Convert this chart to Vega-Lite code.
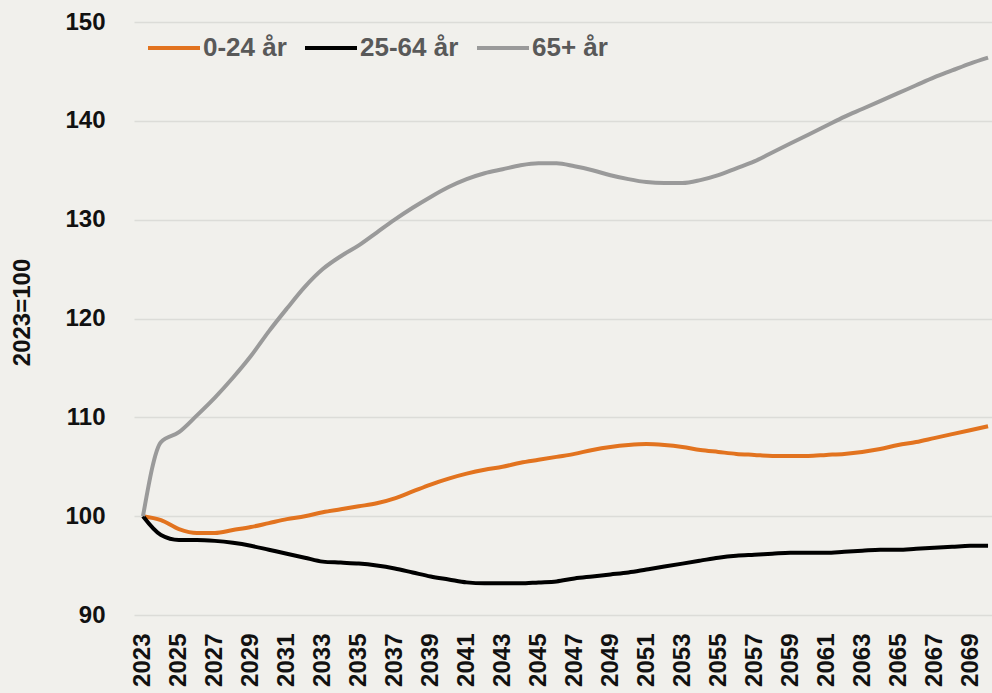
{
  "$schema": "https://vega.github.io/schema/vega-lite/v6.json",
  "autosize": {"type": "none"},
  "padding": {"left": 134, "top": 22, "right": 0, "bottom": 78},
  "width": 858,
  "height": 593,
  "background": "#f1f0ec",
  "config": {"view": {"stroke": null}, "font": "Liberation Sans"},
  "datasets": {
    "d": [
      {"year":2023,"g":"0-24 år","v":100},{"year":2024,"g":"0-24 år","v":99.6},{"year":2025,"g":"0-24 år","v":98.7},{"year":2026,"g":"0-24 år","v":98.3},{"year":2027,"g":"0-24 år","v":98.3},{"year":2028,"g":"0-24 år","v":98.6},{"year":2029,"g":"0-24 år","v":98.9},{"year":2030,"g":"0-24 år","v":99.3},{"year":2031,"g":"0-24 år","v":99.7},{"year":2032,"g":"0-24 år","v":100.0},{"year":2033,"g":"0-24 år","v":100.4},{"year":2034,"g":"0-24 år","v":100.7},{"year":2035,"g":"0-24 år","v":101.0},{"year":2036,"g":"0-24 år","v":101.3},{"year":2037,"g":"0-24 år","v":101.8},{"year":2038,"g":"0-24 år","v":102.5},{"year":2039,"g":"0-24 år","v":103.2},{"year":2040,"g":"0-24 år","v":103.8},{"year":2041,"g":"0-24 år","v":104.3},{"year":2042,"g":"0-24 år","v":104.7},{"year":2043,"g":"0-24 år","v":105.0},{"year":2044,"g":"0-24 år","v":105.4},{"year":2045,"g":"0-24 år","v":105.7},{"year":2046,"g":"0-24 år","v":106.0},{"year":2047,"g":"0-24 år","v":106.3},{"year":2048,"g":"0-24 år","v":106.7},{"year":2049,"g":"0-24 år","v":107.0},{"year":2050,"g":"0-24 år","v":107.2},{"year":2051,"g":"0-24 år","v":107.3},{"year":2052,"g":"0-24 år","v":107.2},{"year":2053,"g":"0-24 år","v":107.0},{"year":2054,"g":"0-24 år","v":106.7},{"year":2055,"g":"0-24 år","v":106.5},{"year":2056,"g":"0-24 år","v":106.3},{"year":2057,"g":"0-24 år","v":106.2},{"year":2058,"g":"0-24 år","v":106.1},{"year":2059,"g":"0-24 år","v":106.1},{"year":2060,"g":"0-24 år","v":106.1},{"year":2061,"g":"0-24 år","v":106.2},{"year":2062,"g":"0-24 år","v":106.3},{"year":2063,"g":"0-24 år","v":106.5},{"year":2064,"g":"0-24 år","v":106.8},{"year":2065,"g":"0-24 år","v":107.2},{"year":2066,"g":"0-24 år","v":107.5},{"year":2067,"g":"0-24 år","v":107.9},{"year":2068,"g":"0-24 år","v":108.3},{"year":2069,"g":"0-24 år","v":108.7},{"year":2070,"g":"0-24 år","v":109.1},
      {"year":2023,"g":"25-64 år","v":100},{"year":2024,"g":"25-64 år","v":98.1},{"year":2025,"g":"25-64 år","v":97.6},{"year":2026,"g":"25-64 år","v":97.6},{"year":2027,"g":"25-64 år","v":97.5},{"year":2028,"g":"25-64 år","v":97.3},{"year":2029,"g":"25-64 år","v":97.0},{"year":2030,"g":"25-64 år","v":96.6},{"year":2031,"g":"25-64 år","v":96.2},{"year":2032,"g":"25-64 år","v":95.8},{"year":2033,"g":"25-64 år","v":95.4},{"year":2034,"g":"25-64 år","v":95.3},{"year":2035,"g":"25-64 år","v":95.2},{"year":2036,"g":"25-64 år","v":95.0},{"year":2037,"g":"25-64 år","v":94.7},{"year":2038,"g":"25-64 år","v":94.3},{"year":2039,"g":"25-64 år","v":93.9},{"year":2040,"g":"25-64 år","v":93.6},{"year":2041,"g":"25-64 år","v":93.3},{"year":2042,"g":"25-64 år","v":93.2},{"year":2043,"g":"25-64 år","v":93.2},{"year":2044,"g":"25-64 år","v":93.2},{"year":2045,"g":"25-64 år","v":93.3},{"year":2046,"g":"25-64 år","v":93.4},{"year":2047,"g":"25-64 år","v":93.7},{"year":2048,"g":"25-64 år","v":93.9},{"year":2049,"g":"25-64 år","v":94.1},{"year":2050,"g":"25-64 år","v":94.3},{"year":2051,"g":"25-64 år","v":94.6},{"year":2052,"g":"25-64 år","v":94.9},{"year":2053,"g":"25-64 år","v":95.2},{"year":2054,"g":"25-64 år","v":95.5},{"year":2055,"g":"25-64 år","v":95.8},{"year":2056,"g":"25-64 år","v":96.0},{"year":2057,"g":"25-64 år","v":96.1},{"year":2058,"g":"25-64 år","v":96.2},{"year":2059,"g":"25-64 år","v":96.3},{"year":2060,"g":"25-64 år","v":96.3},{"year":2061,"g":"25-64 år","v":96.3},{"year":2062,"g":"25-64 år","v":96.4},{"year":2063,"g":"25-64 år","v":96.5},{"year":2064,"g":"25-64 år","v":96.6},{"year":2065,"g":"25-64 år","v":96.6},{"year":2066,"g":"25-64 år","v":96.7},{"year":2067,"g":"25-64 år","v":96.8},{"year":2068,"g":"25-64 år","v":96.9},{"year":2069,"g":"25-64 år","v":97.0},{"year":2070,"g":"25-64 år","v":97.0},
      {"year":2023,"g":"65+ år","v":100},{"year":2024,"g":"65+ år","v":107.5},{"year":2025,"g":"65+ år","v":108.5},{"year":2026,"g":"65+ år","v":110.2},{"year":2027,"g":"65+ år","v":112.0},{"year":2028,"g":"65+ år","v":114.0},{"year":2029,"g":"65+ år","v":116.2},{"year":2030,"g":"65+ år","v":118.7},{"year":2031,"g":"65+ år","v":121.0},{"year":2032,"g":"65+ år","v":123.2},{"year":2033,"g":"65+ år","v":125.0},{"year":2034,"g":"65+ år","v":126.3},{"year":2035,"g":"65+ år","v":127.4},{"year":2036,"g":"65+ år","v":128.7},{"year":2037,"g":"65+ år","v":130.0},{"year":2038,"g":"65+ år","v":131.2},{"year":2039,"g":"65+ år","v":132.3},{"year":2040,"g":"65+ år","v":133.3},{"year":2041,"g":"65+ år","v":134.1},{"year":2042,"g":"65+ år","v":134.7},{"year":2043,"g":"65+ år","v":135.1},{"year":2044,"g":"65+ år","v":135.5},{"year":2045,"g":"65+ år","v":135.7},{"year":2046,"g":"65+ år","v":135.7},{"year":2047,"g":"65+ år","v":135.4},{"year":2048,"g":"65+ år","v":135.0},{"year":2049,"g":"65+ år","v":134.5},{"year":2050,"g":"65+ år","v":134.1},{"year":2051,"g":"65+ år","v":133.8},{"year":2052,"g":"65+ år","v":133.7},{"year":2053,"g":"65+ år","v":133.7},{"year":2054,"g":"65+ år","v":134.0},{"year":2055,"g":"65+ år","v":134.5},{"year":2056,"g":"65+ år","v":135.2},{"year":2057,"g":"65+ år","v":135.9},{"year":2058,"g":"65+ år","v":136.8},{"year":2059,"g":"65+ år","v":137.7},{"year":2060,"g":"65+ år","v":138.6},{"year":2061,"g":"65+ år","v":139.5},{"year":2062,"g":"65+ år","v":140.4},{"year":2063,"g":"65+ år","v":141.2},{"year":2064,"g":"65+ år","v":142.0},{"year":2065,"g":"65+ år","v":142.8},{"year":2066,"g":"65+ år","v":143.6},{"year":2067,"g":"65+ år","v":144.4},{"year":2068,"g":"65+ år","v":145.1},{"year":2069,"g":"65+ år","v":145.8},{"year":2070,"g":"65+ år","v":146.4}
    ]
  },
  "data": {"name": "d"},
  "mark": {"type": "line", "strokeWidth": 4, "interpolate": "monotone"},
  "encoding": {
    "x": {
      "field": "year", "type": "quantitative",
      "scale": {"domain": [2022.5, 2070.22], "nice": false, "zero": false},
      "axis": {
        "title": null, "values": [2023,2025,2027,2029,2031,2033,2035,2037,2039,2041,2043,2045,2047,2049,2051,2053,2055,2057,2059,2061,2063,2065,2067,2069],
        "format": "d", "labelAngle": -90, "labelFontSize": 24, "labelFontWeight": "bold", "labelColor": "#111111",
        "labelPadding": 18, "ticks": false, "domain": false, "grid": false, "labelOverlap": false, "labelFlush": false
      }
    },
    "y": {
      "field": "v", "type": "quantitative",
      "scale": {"domain": [90, 150], "nice": false, "zero": false},
      "axis": {
        "title": "2023=100", "titleFontSize": 24, "titleFontWeight": "bold", "titleColor": "#111111",
        "titleAngle": -90, "titleX": -112, "titleY": 290, "titleBaseline": "middle", "titleAlign": "center",
        "values": [90,100,110,120,130,140,150],
        "labelFontSize": 24, "labelFontWeight": "bold", "labelColor": "#111111", "labelPadding": 29,
        "ticks": false, "domain": false, "grid": true, "gridColor": "#dcdcd8", "gridWidth": 1.5
      }
    },
    "color": {
      "field": "g", "type": "nominal",
      "scale": {"domain": ["0-24 år","25-64 år","65+ år"], "range": ["#e2731f","#000000","#9a9a9a"]},
      "legend": {
        "title": null, "orient": "none", "legendX": 12, "legendY": -2, "direction": "horizontal",
        "symbolType": "stroke", "symbolSize": 2704, "symbolStrokeWidth": 4,
        "labelFontSize": 26, "labelFontWeight": "bold", "labelColor": "#595959", "labelOffset": 1,
        "columnPadding": 10
      }
    }
  }
}
